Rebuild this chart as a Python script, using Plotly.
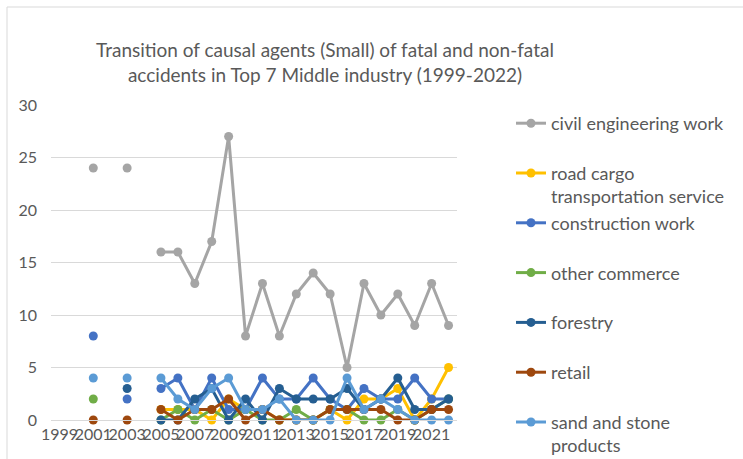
import plotly.graph_objects as go

years = [str(y) for y in range(1999, 2023)]
N = None

civil_engineering = [N, N, 24, N, 24, N, 16, 16, 13, 17, 27, 8, 13, 8, 12, 14, 12, 5, 13, 10, 12, 9, 13, 9]
road_cargo = [N, N, N, N, N, N, 1, 1, 1, 0, 2, 1, 1, 0, 0, 0, 1, 0, 2, 2, 3, 0, 2, 5]
construction = [N, N, 8, N, 2, N, 3, 4, 1, 4, 1, 1, 4, 2, 2, 4, 2, 1, 3, 2, 2, 4, 2, 2]
other_commerce = [N, N, 2, N, N, N, 0, 1, 0, 1, 0, 1, 0, 0, 1, 0, 1, 1, 0, 0, 1, 0, 1, 2]
forestry = [N, N, N, N, 3, N, 0, 0, 2, 3, 0, 2, 0, 3, 2, 2, 2, 3, 1, 2, 4, 1, 1, 2]
retail = [N, N, 0, N, 0, N, 1, 0, 1, 1, 2, 0, 1, 0, 0, 0, 1, 1, 1, 1, 0, 0, 1, 1]
sand_stone = [N, N, 4, N, 4, N, 4, 2, 1, 3, 4, 1, 1, 2, 0, 0, 0, 4, 1, 2, 1, 0, 0, 0]

series_names = [
    "civil engineering work",
    "road cargo<br>transportation service",
    "construction work",
    "other commerce",
    "forestry",
    "retail",
    "sand and stone<br>products",
]
series_values = [civil_engineering, road_cargo, construction, other_commerce, forestry, retail, sand_stone]
series_colors = ["#A5A5A5", "#FFC000", "#4472C4", "#70AD47", "#255E91", "#9E480E", "#5B9BD5"]

tick_years = [str(y) for y in range(1999, 2023, 2)]

FONT = "Lato, 'Open Sans', sans-serif"
GREY = "#595959"

fig = go.Figure()
for i, (name, vals, col) in enumerate(zip(series_names, series_values, series_colors)):
    label = name if "<br>" in name else name + "<br> "
    fig.add_trace(go.Scatter(
        x=years, y=vals, name=label, mode="lines+markers",
        line=dict(color=col, width=3),
        marker=dict(color=col, size=9),
        connectgaps=False, cliponaxis=False,
        legendgroup=f"g{i}",
    ))

W, H = 743, 459
L, R, T, B = 51, 286, 105, 39
pw, ph = W - L - R, H - T - B

fig.update_layout(
    width=W, height=H,
    margin=dict(l=L, r=R, t=T, b=B, autoexpand=False),
    paper_bgcolor="white", plot_bgcolor="white",
    font=dict(family=FONT, color=GREY, size=16),
    title=dict(
        text="Transition of causal agents (Small) of fatal and non-fatal<br>accidents in Top 7 Middle industry (1999-2022)",
        x=325 / W, xanchor="center", xref="container",
        y=1 - 57 / H, yanchor="middle", yref="container",
        font=dict(family=FONT, size=19, color=GREY),
    ),
    xaxis=dict(
        type="category", categoryorder="array", categoryarray=years,
        range=[-0.5, 23.5], tickmode="array", tickvals=tick_years, ticktext=tick_years,
        tickangle=0, showgrid=False, showline=True, linecolor="#D9D9D9", linewidth=1,
        ticks="", tickfont=dict(size=16, color=GREY), zeroline=False, automargin=False,
    ),
    yaxis=dict(
        range=[0, 30], dtick=5, tick0=0, showgrid=True, gridcolor="#D9D9D9", gridwidth=1,
        zeroline=False, showline=False, ticks="", ticklabelstandoff=13,
        tickfont=dict(size=16, color=GREY), automargin=False,
    ),
    legend=dict(
        x=(511 - L) / pw, xanchor="left",
        y=(420 - 105) / ph, yanchor="top",
        font=dict(size=18, color=GREY), valign="top", traceorder="grouped",
        tracegroupgap=0, bgcolor="rgba(0,0,0,0)", maxheight=420,
    ),
    showlegend=True,
)

fig.add_shape(type="rect", xref="paper", yref="paper",
              x0=(7 - L) / pw, x1=2, y0=-1, y1=(420 - 7) / ph,
              line=dict(color="#D9D9D9", width=1), fillcolor="rgba(0,0,0,0)", layer="below")

fig.write_html("out.html", config={"displayModeBar": False},
               post_script="document.body.style.margin='0';")
